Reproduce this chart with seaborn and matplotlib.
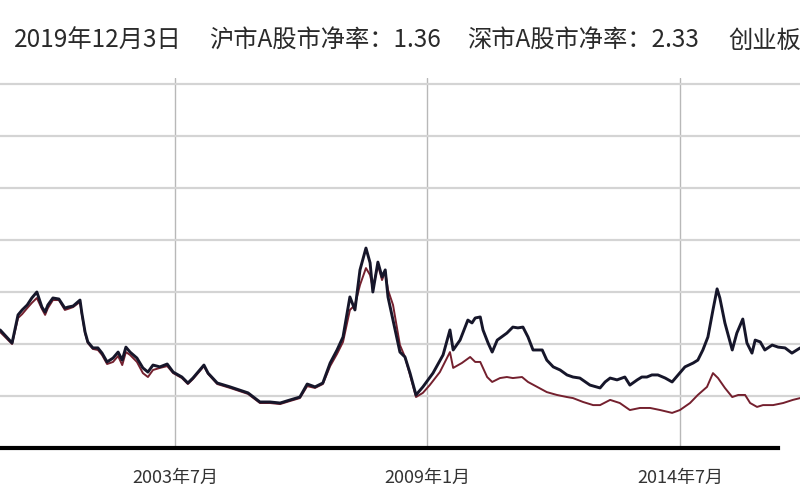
import pandas as pd
import matplotlib.pyplot as plt
import seaborn as sns

# Shenzhen A-share price/book (upper, dark line), decimal years
sz_years = [1999.69, 1999.95, 2000.08, 2000.17, 2000.28, 2000.38, 2000.49, 2000.60, 2000.67, 2000.73,
            2000.84, 2000.97, 2001.10, 2001.17, 2001.28, 2001.43, 2001.47, 2001.54, 2001.60, 2001.71,
            2001.82, 2001.91, 2002.02, 2002.15, 2002.26, 2002.35, 2002.43, 2002.52, 2002.67, 2002.80,
            2002.91, 2003.02, 2003.17, 2003.33, 2003.46, 2003.65, 2003.78, 2003.89, 2004.04, 2004.13,
            2004.22, 2004.42, 2004.70, 2005.09, 2005.35, 2005.57, 2005.79, 2006.01, 2006.22, 2006.38,
            2006.55, 2006.72, 2006.88, 2007.03, 2007.16, 2007.31, 2007.42, 2007.53, 2007.66, 2007.75,
            2007.81, 2007.92, 2008.01, 2008.08, 2008.14, 2008.25, 2008.40, 2008.51, 2008.62, 2008.75,
            2008.90, 2009.12, 2009.34, 2009.49, 2009.56, 2009.71, 2009.88, 2009.97, 2010.04, 2010.15,
            2010.21, 2010.32, 2010.41, 2010.52, 2010.73, 2010.86, 2010.97, 2011.08, 2011.19, 2011.30,
            2011.50, 2011.60, 2011.74, 2011.89, 2012.04, 2012.17, 2012.32, 2012.54, 2012.76, 2012.87,
            2012.98, 2013.13, 2013.30, 2013.41, 2013.57, 2013.67, 2013.78, 2013.89, 2014.02, 2014.18,
            2014.33, 2014.46, 2014.61, 2014.79, 2014.89, 2015.00, 2015.11, 2015.22, 2015.31, 2015.37,
            2015.48, 2015.64, 2015.74, 2015.87, 2015.96, 2016.07, 2016.14, 2016.25, 2016.35, 2016.51,
            2016.64, 2016.79, 2016.94, 2017.12]
sz_pb = [4.54, 4.04, 5.12, 5.31, 5.50, 5.77, 6.00, 5.42, 5.23, 5.50,
         5.77, 5.73, 5.38, 5.42, 5.46, 5.69, 5.19, 4.46, 4.08, 3.85,
         3.85, 3.65, 3.31, 3.46, 3.69, 3.38, 3.88, 3.69, 3.46, 3.08,
         2.92, 3.19, 3.12, 3.23, 2.92, 2.73, 2.50, 2.69, 3.00, 3.19,
         2.88, 2.50, 2.35, 2.12, 1.77, 1.77, 1.73, 1.85, 1.96, 2.46,
         2.35, 2.50, 3.27, 3.77, 4.27, 5.81, 5.31, 6.85, 7.69, 7.12,
         6.00, 7.15, 6.58, 6.85, 5.81, 4.92, 3.69, 3.50, 2.88, 2.04,
         2.35, 2.88, 3.58, 4.54, 3.77, 4.15, 4.92, 4.81, 5.00, 5.04,
         4.54, 4.04, 3.69, 4.15, 4.42, 4.65, 4.62, 4.65, 4.27, 3.77,
         3.77, 3.38, 3.12, 3.00, 2.81, 2.73, 2.69, 2.42, 2.31, 2.54,
         2.69, 2.62, 2.73, 2.42, 2.62, 2.73, 2.73, 2.81, 2.81, 2.69,
         2.54, 2.81, 3.12, 3.27, 3.38, 3.77, 4.27, 5.31, 6.12, 5.77,
         4.81, 3.77, 4.42, 4.96, 4.04, 3.65, 4.15, 4.08, 3.77, 3.96,
         3.88, 3.85, 3.65, 3.85]

# Shanghai A-share price/book (lower, dark red line)
sh_years = [1999.69, 1999.95, 2000.08, 2000.17, 2000.28, 2000.38, 2000.49, 2000.60, 2000.67, 2000.73,
            2000.84, 2000.97, 2001.10, 2001.17, 2001.28, 2001.43, 2001.47, 2001.54, 2001.60, 2001.71,
            2001.82, 2001.91, 2002.02, 2002.15, 2002.26, 2002.35, 2002.43, 2002.52, 2002.67, 2002.80,
            2002.91, 2003.02, 2003.17, 2003.33, 2003.46, 2003.65, 2003.78, 2003.89, 2004.04, 2004.13,
            2004.22, 2004.42, 2004.70, 2005.09, 2005.35, 2005.57, 2005.79, 2006.01, 2006.22, 2006.38,
            2006.55, 2006.72, 2006.88, 2007.03, 2007.16, 2007.31, 2007.42, 2007.53, 2007.66, 2007.75,
            2007.81, 2007.92, 2008.01, 2008.08, 2008.14, 2008.25, 2008.40, 2008.51, 2008.62, 2008.75,
            2008.90, 2009.05, 2009.27, 2009.49, 2009.56, 2009.75, 2009.93, 2010.04, 2010.15, 2010.30,
            2010.41, 2010.58, 2010.73, 2010.86, 2011.06, 2011.19, 2011.39, 2011.60, 2011.82, 2012.04,
            2012.17, 2012.39, 2012.61, 2012.76, 2012.98, 2013.19, 2013.41, 2013.63, 2013.85, 2014.07,
            2014.33, 2014.50, 2014.72, 2014.89, 2015.09, 2015.22, 2015.33, 2015.48, 2015.64, 2015.77,
            2015.92, 2016.03, 2016.18, 2016.31, 2016.53, 2016.75, 2016.96, 2017.12]
sh_pb = [4.46, 4.00, 5.00, 5.15, 5.38, 5.58, 5.77, 5.35, 5.12, 5.38,
         5.69, 5.69, 5.31, 5.35, 5.42, 5.62, 5.15, 4.42, 4.04, 3.81,
         3.77, 3.58, 3.23, 3.31, 3.54, 3.19, 3.69, 3.58, 3.31, 2.88,
         2.73, 3.00, 3.08, 3.15, 2.88, 2.69, 2.46, 2.65, 2.96, 3.15,
         2.85, 2.46, 2.31, 2.08, 1.73, 1.73, 1.69, 1.81, 1.92, 2.38,
         2.31, 2.46, 3.15, 3.62, 4.08, 5.31, 5.50, 6.27, 6.92, 6.65,
         6.15, 7.04, 6.46, 6.77, 6.08, 5.50, 3.96, 3.50, 2.81, 1.96,
         2.12, 2.42, 2.92, 3.69, 3.08, 3.27, 3.50, 3.31, 3.31, 2.73,
         2.54, 2.69, 2.73, 2.69, 2.73, 2.54, 2.35, 2.15, 2.04, 1.96,
         1.92, 1.77, 1.65, 1.65, 1.85, 1.73, 1.46, 1.54, 1.54, 1.46,
         1.35, 1.46, 1.73, 2.04, 2.35, 2.88, 2.69, 2.31, 1.96, 2.04,
         2.04, 1.73, 1.58, 1.65, 1.65, 1.73, 1.85, 1.92]

tick_years = [2003.5, 2009.0, 2014.5]
tick_labels = ['2003年7月', '2009年1月', '2014年7月']
grid_levels = [2, 4, 6, 8, 10, 12, 14]
header = ['2019年12月3日', '沪市A股市净率：1.36', '深市A股市净率：2.33', '创业板']

# long format frame for seaborn
df = pd.concat([
    pd.DataFrame({'year': sh_years, 'pb': sh_pb, 'market': '沪市'}),
    pd.DataFrame({'year': sz_years, 'pb': sz_pb, 'market': '深市'}),
])

sns.set_style('white')
plt.rcParams['font.family'] = ['Noto Sans CJK SC', 'DejaVu Sans']

fig = plt.figure(figsize=(8, 5), dpi=100)
ax = fig.add_axes([0, 0.104, 1, 0.74])

sns.lineplot(data=df, x='year', y='pb', hue='market', size='market',
             hue_order=['沪市', '深市'],
             palette={'沪市': '#74202e', '深市': '#16162a'},
             sizes={'沪市': 1.4, '深市': 2.1},
             estimator=None, legend=False, ax=ax)

# pixel scale of the screenshot: 45.9 px per year, 26 px per unit
x0 = 1999.687
ax.set_xlim(x0, x0 + 800 / 45.9)
ax.set_ylim(0, 370 / 26)

ax.set_yticks(grid_levels)
ax.set_yticklabels([])
ax.tick_params(axis='y', length=0)
ax.yaxis.grid(True, color='#d4d4d4', lw=1.6)

ax.set_xticks(tick_years, tick_labels)
ax.xaxis.grid(True, color='#b8b8b8', lw=1)
ax.tick_params(axis='x', length=6, width=1.2, color='black', labelsize=13,
               labelcolor='#333333', pad=9)
ax.set_axisbelow(True)

for side in ['left', 'right', 'top']:
    ax.spines[side].set_visible(False)
ax.spines['bottom'].set_linewidth(3)
ax.spines['bottom'].set_color('black')
ax.spines['bottom'].set_bounds(x0, x0 + 778 / 45.9)

ax.set_xlabel('')
ax.set_ylabel('')

# header line, the last item runs off the right edge like the screenshot
for txt, xpos in zip(header, [14, 209, 467, 728]):
    fig.text(xpos / 800, 0.918, txt, fontsize=17.5, color='#2a2a2a', va='center')

fig.savefig('out.png', dpi=100)
